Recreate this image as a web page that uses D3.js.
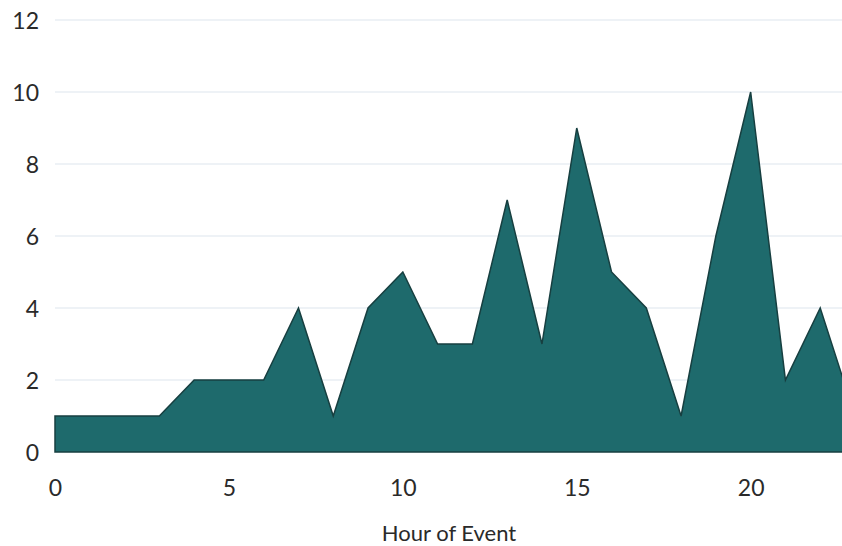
<!DOCTYPE html>
<html><head><meta charset="utf-8">
<script src="https://cdn.jsdelivr.net/npm/d3@7"></script>
<style>html,body{margin:0;padding:0;background:#fff;overflow:hidden}</style>
</head><body>
<svg id="chart" width="842" height="546"></svg>
<script>
const hours = [0,1,2,3,4,5,6,7,8,9,10,11,12,13,14,15,16,17,18,19,20,21,22,23];
const counts = [1,1,1,1,2,2,2,4,1,4,5,3,3,7,3,9,5,4,1,6,10,2,4,1];
const xTicks = [0,5,10,15,20];
const yTicks = [0,2,4,6,8,10,12];
const xLabel = "Hour of Event";

const svg = d3.select("#chart");
const x = d3.scaleLinear().domain([0,23]).range([55,855]);
const y = d3.scaleLinear().domain([0,12]).range([452,20]);
const font = "Lato, 'Open Sans', sans-serif";

svg.append("g").selectAll("line").data(yTicks.filter(d=>d>0)).join("line")
  .attr("x1",55).attr("x2",842).attr("y1",d=>y(d)).attr("y2",d=>y(d))
  .attr("stroke","#e9eef3").attr("stroke-width",1.5);

const data = hours.map((h,i)=>({h, v:counts[i]}));
const area = d3.area().x(d=>x(d.h)).y0(y(0)).y1(d=>y(d.v));
svg.append("path").datum(data).attr("d",area)
  .attr("fill","#1e6a6c").attr("stroke","#173f40").attr("stroke-width",1.5)
  .attr("stroke-linejoin","miter");

const yAxis = d3.axisLeft(y).tickValues(yTicks).tickSize(0).tickPadding(0);
const gy = svg.append("g").attr("transform","translate(39,1)").call(yAxis);
gy.select(".domain").remove();
gy.selectAll("text").attr("font-family",font).attr("font-size",23).attr("fill","#2a2a2a");

const xAxis = d3.axisBottom(x).tickValues(xTicks).tickSize(0).tickPadding(0);
const gx = svg.append("g").attr("transform","translate(0,480)").call(xAxis);
gx.select(".domain").remove();
gx.selectAll("text").attr("font-family",font).attr("font-size",23).attr("fill","#2a2a2a");

svg.append("text").attr("x",449).attr("y",541).attr("text-anchor","middle")
  .attr("font-family",font).attr("font-size",22).attr("fill","#2a2a2a").text(xLabel);
</script>
</body></html>
